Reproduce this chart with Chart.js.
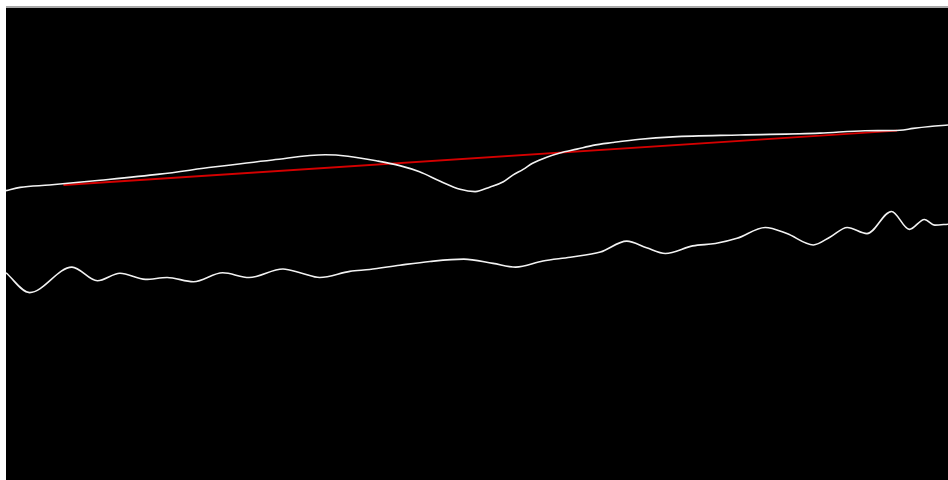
<!DOCTYPE html>
<html>
<head>
<meta charset="utf-8">
<script src="https://cdn.jsdelivr.net/npm/chart.js@4/dist/chart.umd.min.js"></script>
<style>
  html, body { margin: 0; padding: 0; background: #fff; }
  #wrap {
    position: absolute; left: 6px; top: 6px;
    width: 942px; height: 472px;
    border-top: 2px solid #a8a8a8;
    background: #000;
  }
  canvas { display: block; }
</style>
</head>
<body>
<div id="wrap"><canvas id="myChart" width="942" height="472"></canvas></div>
<script>
// x positions are percent of the run, y values percent of full scale
const upperX = [0, 1.5, 4.6, 10.0, 16.3, 22.0, 28.3, 33.9, 36.3, 39.4, 41.8, 43.9, 46.1, 48.2, 49.8,
  51.4, 52.8, 53.8, 54.9, 55.9, 57.4, 58.8, 60.6, 62.3, 64.4, 67.3, 70.8, 77.9, 86.4, 91.2, 94.9, 96.3, 98.1, 100];
const upperY = [61.3, 62.0, 62.5, 63.5, 64.8, 66.3, 67.8, 68.9, 68.6, 67.6, 66.6, 65.3, 63.3, 61.6, 61.1,
  62.1, 63.2, 64.6, 65.8, 67.1, 68.4, 69.3, 70.1, 70.9, 71.5, 72.2, 72.7, 73.1, 73.5, 74.0, 74.1, 74.5, 74.9, 75.2];

const trendX = [6.1, 94.6];
const trendY = [62.5, 74.0];

const lowerX = [0, 2.5, 7.0, 9.7, 12.1, 14.8, 17.1, 19.9, 23.0, 25.8, 29.4, 31.4, 33.3, 36.5, 38.6, 41.8, 45.0, 48.6,
  51.7, 54.1, 57.0, 59.9, 63.1, 65.9, 68.0, 70.0, 72.9, 75.3, 77.6, 80.6, 82.9, 85.7, 87.5, 89.3, 91.4, 94.0, 95.9, 97.5, 98.6, 100];
const lowerY = [43.9, 39.7, 45.1, 42.2, 43.8, 42.5, 42.9, 42.0, 43.9, 42.9, 44.7, 43.8, 42.9, 44.2, 44.6, 45.5, 46.3, 46.8,
  45.9, 45.1, 46.4, 47.2, 48.3, 50.6, 49.2, 48.0, 49.6, 50.1, 51.2, 53.5, 52.2, 49.8, 51.5, 53.5, 52.2, 56.9, 53.1, 55.2, 54.0, 54.2];

const toPoints = (xs, ys) => xs.map((x, i) => ({x: x, y: ys[i]}));

const ctx = document.getElementById("myChart").getContext("2d");
new Chart(ctx, {
    type: "line",
    data: {
        datasets: [{
            data: toPoints(upperX, upperY),
            borderColor: '#f2f2f2',
            borderWidth: 1.6,
            cubicInterpolationMode: 'monotone'
        }, {
            data: toPoints(trendX, trendY),
            borderColor: 'rgb(212,0,0)',
            borderWidth: 1.8,
            tension: 0
        }, {
            data: toPoints(lowerX, lowerY),
            borderColor: '#f2f2f2',
            borderWidth: 1.6,
            cubicInterpolationMode: 'monotone'
        }]
    },
    options: {
        responsive: false,
        animation: false,
        events: [],
        elements: { point: { radius: 0 } },
        plugins: { legend: { display: false }, tooltip: { enabled: false } },
        layout: { padding: 0 },
        scales: {
            x: { type: 'linear', min: 0, max: 100, display: false },
            y: { min: 0, max: 100, display: false }
        }
    }
});
</script>
</body>
</html>
